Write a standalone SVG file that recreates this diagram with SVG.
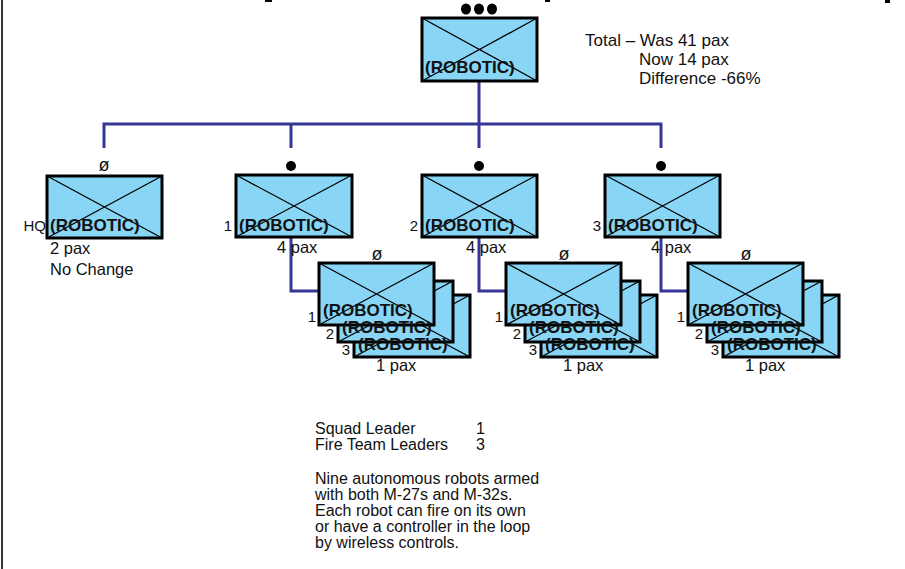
<svg xmlns="http://www.w3.org/2000/svg" width="905" height="569" viewBox="0 0 905 569">
<style>
.box{fill:#88D5F5;stroke:#000;stroke-width:3}
.x{stroke:#000;stroke-width:1.3;fill:none}
.rb{font-family:"Liberation Sans",Arial,sans-serif;font-weight:bold;font-size:17px;fill:#111}
.t{font-family:"Liberation Sans",Arial,sans-serif;font-size:16.5px;fill:#111}
.tt{font-family:"Liberation Sans",Arial,sans-serif;font-size:17px;fill:#111}
.s{font-family:"Liberation Sans",Arial,sans-serif;font-size:15px;fill:#111}
.o{font-family:"Liberation Sans",Arial,sans-serif;font-size:18px;fill:#111}
.b{font-family:"Liberation Sans",Arial,sans-serif;font-size:16px;fill:#111}
.con{stroke:#363696;stroke-width:3;fill:none}
</style>
<rect x="0" y="0" width="905" height="569" fill="#fff"/>
<line x1="2" y1="0" x2="2" y2="569" stroke="#333" stroke-width="2"/>
<rect x="265" y="0" width="7" height="2" fill="#000"/>
<rect x="545" y="0" width="5" height="2" fill="#000"/>
<rect x="885" y="0" width="5" height="3" fill="#000"/>

<g id="connectors">
<path class="con" d="M479 81 V148"/>
<path class="con" d="M104 148 V124 H661 V148"/>
<path class="con" d="M291 124 V148"/>
<path class="con" d="M291 237 V291 H319"/>
<path class="con" d="M479 237 V291 H506"/>
<path class="con" d="M661 237 V291 H688"/>
</g>

<g id="top">
<ellipse cx="466" cy="9" rx="5" ry="5.5"/>
<ellipse cx="479" cy="9" rx="5" ry="5.5"/>
<ellipse cx="492" cy="9" rx="5" ry="5.5"/>
<rect class="box" x="422" y="18" width="115" height="63"/>
<path class="x" d="M422 18 L537 81 M537 18 L422 81"/>
<text class="rb" x="425" y="73">(ROBOTIC)</text>
</g>

<g id="total">
<text class="tt" x="585" y="46">Total – Was 41 pax</text>
<text class="tt" x="639" y="65">Now 14 pax</text>
<text class="tt" x="639" y="84">Difference -66%</text>
</g>

<g id="hq">
<text class="o" x="104" y="171" text-anchor="middle">ø</text>
<rect class="box" x="47" y="176" width="115" height="62"/>
<path class="x" d="M47 176 L162 238 M162 176 L47 238"/>
<text class="s" x="46" y="231" text-anchor="end">HQ</text>
<text class="rb" x="50" y="231">(ROBOTIC)</text>
<text class="t" x="50" y="254">2 pax</text>
<text class="t" x="50" y="275">No Change</text>
</g>

<g id="squad1">
<circle cx="291" cy="166" r="5"/>
<rect class="box" x="236" y="175" width="116" height="62"/>
<path class="x" d="M236 175 L352 237 M352 175 L236 237"/>
<text class="s" x="232" y="231" text-anchor="end">1</text>
<text class="rb" x="239" y="231">(ROBOTIC)</text>
<text class="t" x="277" y="253">4 pax</text>
</g>
<g id="squad2">
<circle cx="479" cy="166" r="5"/>
<rect class="box" x="422" y="175" width="115" height="62"/>
<path class="x" d="M422 175 L537 237 M537 175 L422 237"/>
<text class="s" x="418" y="231" text-anchor="end">2</text>
<text class="rb" x="425" y="231">(ROBOTIC)</text>
<text class="t" x="466" y="253">4 pax</text>
</g>
<g id="squad3">
<circle cx="661" cy="166" r="5"/>
<rect class="box" x="605" y="175" width="115" height="62"/>
<path class="x" d="M605 175 L720 237 M720 175 L605 237"/>
<text class="s" x="601" y="231" text-anchor="end">3</text>
<text class="rb" x="608" y="231">(ROBOTIC)</text>
<text class="t" x="651" y="253">4 pax</text>
</g>

<defs>
<g id="stack">
<rect class="box" x="354" y="295" width="116" height="62"/>
<path class="x" d="M354 295 L470 357 M470 295 L354 357"/>
<rect class="box" x="338" y="281" width="115" height="61"/>
<path class="x" d="M338 281 L453 342 M453 281 L338 342"/>
<rect class="box" x="319" y="263" width="115" height="62"/>
<path class="x" d="M319 263 L434 325 M434 263 L319 325"/>
<text class="rb" x="358" y="350">(ROBOTIC)</text>
<text class="rb" x="342" y="333">(ROBOTIC)</text>
<text class="rb" x="323" y="316">(ROBOTIC)</text>
<text class="s" x="316" y="322" text-anchor="end">1</text>
<text class="s" x="334" y="339" text-anchor="end">2</text>
<text class="s" x="350" y="355" text-anchor="end">3</text>
<text class="o" x="377" y="260" text-anchor="middle">ø</text>
<text class="t" x="376" y="371">1 pax</text>
</g>
</defs>
<g id="fireteams1"><use href="#stack"/></g>
<g id="fireteams2"><use href="#stack" x="187"/></g>
<g id="fireteams3"><use href="#stack" x="369"/></g>

<g id="notes">
<text class="b" x="315" y="434">Squad Leader</text>
<text class="b" x="476" y="434">1</text>
<text class="b" x="315" y="450">Fire Team Leaders</text>
<text class="b" x="476" y="450">3</text>
<text class="b" x="315" y="484">Nine autonomous robots armed</text>
<text class="b" x="315" y="500">with both M-27s and M-32s.</text>
<text class="b" x="315" y="516">Each robot can fire on its own</text>
<text class="b" x="315" y="532">or have a controller in the loop</text>
<text class="b" x="315" y="548">by wireless controls.</text>
</g>
</svg>
